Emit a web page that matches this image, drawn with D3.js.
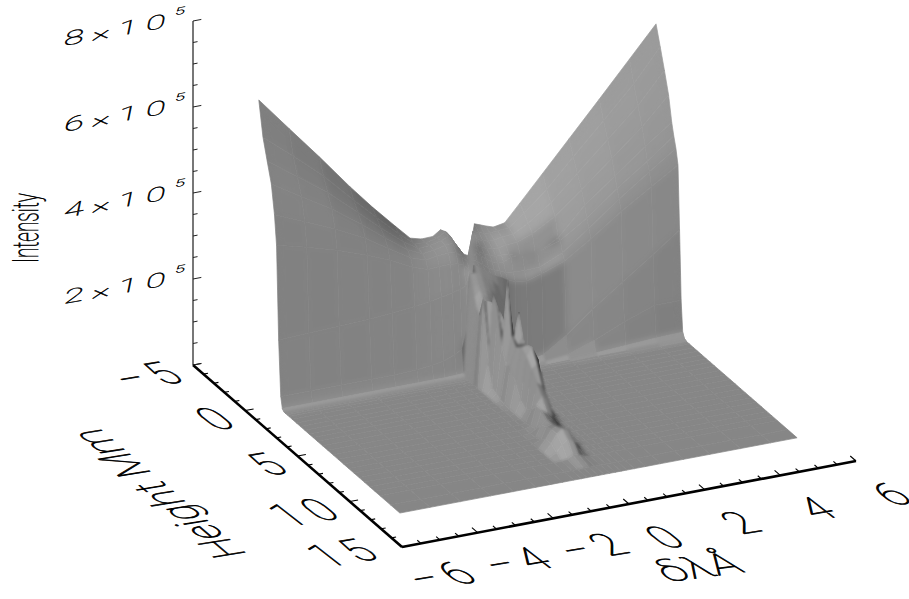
<!DOCTYPE html>
<html><head><meta charset="utf-8">
<style>html,body{margin:0;padding:0;background:#fff}svg{display:block}
text{font-family:Roboto,"Open Sans",sans-serif;font-weight:100;fill:#000;stroke:#000;stroke-width:0.42px;text-rendering:geometricPrecision}</style>
<script src="https://cdn.jsdelivr.net/npm/d3@7"></script></head><body>
<script>
// Wavelength offset (Å) of each surface column
const wavelengths=[-5.2,-4.4,-3.6,-2.8,-2.2,-1.6,-1.2,-0.9,-0.6,-0.4,-0.25,-0.1,0.05,0.2,0.35,0.5,0.65,0.8,1,1.3,1.7,2.3,3,3.8,4.6,5.3];
// Height (Mm) of each surface row, back to front
const heights=[-1.6,-1.2,-0.8,-0.4,-0.1,0.1,0.3,0.5,0.65,0.8,0.95,1.1,1.3,1.6,2,2.4,2.8,3.2,3.6,4,4.5,5,5.5,6,6.5,7,7.5,8,8.5,9,9.5,10,11,11.9];
// Intensity in units of 1e5, one row per height
const intensityRows=[
[6.75,5.95,5.16,4.34,3.76,3.22,2.87,2.80,2.81,2.93,2.86,2.62,2.46,2.27,2.20,2.92,2.87,2.82,2.76,2.81,3.20,3.79,4.48,5.27,6.07,6.77],
[5.97,5.40,4.80,4.10,3.60,3.12,2.83,2.80,2.85,2.96,2.84,2.62,2.42,2.22,2.85,2.80,2.76,2.74,2.76,2.78,3.05,3.50,4.15,4.85,5.58,6.32],
[5.50,5.00,4.50,3.90,3.45,3.02,2.80,2.82,2.88,2.95,2.78,2.58,2.38,2.18,2.75,2.70,2.66,2.66,2.70,2.72,2.90,3.28,3.85,4.50,5.15,5.86],
[5.05,4.62,4.20,3.70,3.30,2.92,2.76,2.80,2.86,2.88,2.72,2.52,2.34,2.75,2.66,2.60,2.56,2.56,2.60,2.62,2.75,3.05,3.55,4.15,4.75,5.37],
[4.40,4.10,3.80,3.45,3.12,2.80,2.68,2.72,2.74,2.72,2.60,2.44,2.75,2.65,2.56,2.50,2.46,2.46,2.44,2.36,2.32,2.62,3.25,3.80,4.35,4.80],
[3.73,3.55,3.35,3.10,2.88,2.62,2.50,2.52,2.52,2.50,2.44,2.30,2.70,2.58,2.48,2.40,2.34,2.34,2.42,2.44,2.42,2.60,3.00,3.55,4.05,4.52],
[1.57,1.60,1.62,1.65,1.70,1.75,1.80,1.85,1.90,1.95,2.00,2.60,2.52,2.42,2.32,2.24,2.20,2.14,2.12,2.10,2.12,2.35,2.80,3.35,3.85,4.28],
[0.30,0.30,0.30,0.30,0.30,0.32,0.36,0.40,0.50,0.60,1.15,2.50,2.42,2.32,2.22,2.14,2.08,2.00,1.94,1.90,2.00,2.20,2.60,3.10,3.55,3.93],
[0.05,0.05,0.05,0.05,0.05,0.05,0.05,0.05,0.06,0.07,2.35,2.35,2.30,2.20,2.10,1.95,1.60,0.60,0.08,0.06,0.15,0.50,1.00,1.50,2.00,2.45],
[0.01,0.01,0.01,0.01,0.01,0.01,0.01,0.01,0.01,0.01,2.25,2.25,2.20,2.10,2.00,1.70,1.00,0.10,0.02,0.01,0.02,0.08,0.30,0.60,0.85,0.85],
[0,0,0,0,0,0,0,0,0,0,2.10,2.15,2.10,2.00,1.85,1.40,0.40,0.03,0.01,0,0,0.01,0.04,0.08,0.12,0.14],
[0,0,0,0,0,0,0,0,0,0,1.90,2.05,2.00,1.90,1.65,1.00,0.12,0.01,0,0,0,0,0.01,0.01,0.02,0.03],
[0,0,0,0,0,0,0,0,0,0,1.70,1.95,1.90,1.78,1.40,0.60,0.04,0,0,0,0,0,0,0,0,0],
[0,0,0,0,0,0,0,0,0,0,1.60,1.90,1.85,1.75,1.20,0.40,0.02,0,0,0,0,0,0,0,0,0],
[0,0,0,0,0,0,0,0,0,0,2.10,0.70,1.70,1.65,0.90,0.20,0,0,0,0,0,0,0,0,0,0],
[0,0,0,0,0,0,0,0,0,0,0.60,2.20,1.00,1.50,1.40,0.60,0.10,0,0,0,0,0,0,0,0,0],
[0,0,0,0,0,0,0,0,0,0,0.15,2.00,1.10,2.00,1.10,0.70,0.10,0,0,0,0,0,0,0,0,0],
[0,0,0,0,0,0,0,0,0,0,0.10,1.20,2.70,1.30,1.90,0.90,0.10,0,0,0,0,0,0,0,0,0],
[0,0,0,0,0,0,0,0,0,0,0.05,0.80,1.50,1.25,1.40,0.60,0.05,0,0,0,0,0,0,0,0,0],
[0,0,0,0,0,0,0,0,0,0,0.03,0.90,1.30,1.35,1.20,0.50,0.03,0,0,0,0,0,0,0,0,0],
[0,0,0,0,0,0,0,0,0,0,0.02,0.60,1.40,1.45,1.00,0.30,0.02,0,0,0,0,0,0,0,0,0],
[0,0,0,0,0,0,0,0,0,0,0.01,0.30,1.30,1.50,1.20,0.30,0.01,0,0,0,0,0,0,0,0,0],
[0,0,0,0,0,0,0,0,0,0,0,0.20,1.10,1.20,0.70,0.15,0,0,0,0,0,0,0,0,0,0],
[0,0,0,0,0,0,0,0,0,0,0.02,0.30,0.90,0.80,0.30,0.05,0,0,0,0,0,0,0,0,0,0],
[0,0,0,0,0,0,0,0,0,0.01,0.05,0.50,0.70,0.60,0.15,0.02,0,0,0,0,0,0,0,0,0,0],
[0,0,0,0,0,0,0,0,0,0.02,0.10,0.50,0.40,0.30,0.08,0,0,0,0,0,0,0,0,0,0,0],
[0,0,0,0,0,0,0,0,0,0.02,0.30,0.40,0.35,0.20,0.03,0,0,0,0,0,0,0,0,0,0,0],
[0,0,0,0,0,0,0,0,0,0.08,0.35,0.40,0.30,0.10,0.02,0,0,0,0,0,0,0,0,0,0,0],
[0,0,0,0,0,0,0,0,0,0.20,0.40,0.45,0.35,0.10,0.02,0,0,0,0,0,0,0,0,0,0,0],
[0,0,0,0,0,0,0,0,0,0.20,0.40,0.50,0.45,0.15,0.02,0,0,0,0,0,0,0,0,0,0,0],
[0,0,0,0,0,0,0,0,0,0.10,0.25,0.35,0.30,0.10,0,0,0,0,0,0,0,0,0,0,0,0],
[0,0,0,0,0,0,0,0,0,0.01,0.03,0.10,0.08,0.02,0,0,0,0,0,0,0,0,0,0,0,0],
[0,0,0,0,0,0,0,0,0,0,0,0,0,0,0,0,0,0,0,0,0,0,0,0,0,0],
[0,0,0,0,0,0,0,0,0,0,0,0,0,0,0,0,0,0,0,0,0,0,0,0,0,0]];
const wavelengthTicks=[-6,-4,-2,0,2,4,6];
const heightTicks=[-5,0,5,10,15];
const intensityTicks=[2e5,4e5,6e5,8e5];
const intensityLabels=["2","4","6","8"];

const W=909,H=599;
const svg=d3.select("body").append("svg").attr("width",W).attr("height",H);

// Oblique projection built from one linear scale per axis component
const ox=402,oy=547;
const lamX=d3.scaleLinear([-6,6],[0,454]), lamY=d3.scaleLinear([-6,6],[0,-86]);
const hgtX=d3.scaleLinear([15,-5],[0,-209]), hgtY=d3.scaleLinear([15,-5],[0,-182]);
const intY=d3.scaleLinear([0,8e5],[0,-344]);
const project=(l,h,i)=>[ox+lamX(l)+hgtX(h), oy+lamY(l)+hgtY(h)+intY(i)];

// Shading: Lambert term on normalised axes, mapped to grey
const nx=d3.scaleLinear([-6,6],[0,1]), ny=d3.scaleLinear([15,-5],[0,1]), nz=d3.scaleLinear([0,8],[0,1]);
const light=[-0.25,-0.52,0.6];
const grey=d3.scaleLinear([0,0.6,1],[20,134,176]).clamp(true);
function lambert(a,b,c,d){
  const p=([l,h,i])=>[nx(l),ny(h),nz(i)];
  const A=p(a),B=p(b),C=p(c),D=p(d);
  const u=[C[0]-A[0],C[1]-A[1],C[2]-A[2]], v=[D[0]-B[0],D[1]-B[1],D[2]-B[2]];
  let n=[u[1]*v[2]-u[2]*v[1],u[2]*v[0]-u[0]*v[2],u[0]*v[1]-u[1]*v[0]];
  if(n[2]<0) n=n.map(x=>-x);
  const len=Math.hypot(...n)||1;
  n=n.map(x=>x/len);
  let dot=n[0]*light[0]+n[1]*light[1]+n[2]*light[2];
  if(n[0]<0) dot+=0.35*n[0]*n[0];
  return Math.max(0,dot);
}

// Soft filters: blur colours, keep a crisp silhouette
const defs=svg.append("defs");
function soft(id,sd){
  const f=defs.append("filter").attr("id",id).attr("filterUnits","userSpaceOnUse")
    .attr("x",0).attr("y",0).attr("width",W).attr("height",H).attr("color-interpolation-filters","sRGB");
  f.append("feGaussianBlur").attr("in","SourceGraphic").attr("stdDeviation",sd).attr("result","b");
  f.append("feComponentTransfer").attr("in","b").attr("result","o").append("feFuncA").attr("type","linear").attr("slope",30);
  f.append("feComposite").attr("in","o").attr("in2","SourceAlpha").attr("operator","in");
}
soft("softWall",3.8); soft("softFloor",0.9); soft("softBand",1.1);

const nR=heights.length-1,nC=wavelengths.length-1;
const vtx=(r,c)=>[wavelengths[c],heights[r],intensityRows[r][c]];
const wallRows=13, bandFrom=7, coreFrom=9, coreTo=21, foldTo=17, bright=0.66;
const inCore=c=>c>=coreFrom&&c<coreTo;
const raw=d3.range(nR).map(r=>d3.range(nC).map(c=>{
  const v=lambert(vtx(r,c),vtx(r,c+1),vtx(r+1,c+1),vtx(r+1,c));
  return (r<wallRows&&c>=coreFrom&&c<foldTo)?Math.max(v,0.45):v;
}));
const isBand=(r,c)=>r>=bandFrom&&r<wallRows&&raw[r][c]>bright;
// Even out the flat shade between neighbouring wall cells, leaving the crease and line core sharp
const dots=raw.map((row,r)=>row.map((v,c)=>{
  if(r>=wallRows||inCore(c)||isBand(r,c)) return v;
  let s=0,w=0;
  for(let dr=-2;dr<=2;dr++)for(let dc=-1;dc<=1;dc++){
    const rr=r+dr,cc=c+dc;
    if(rr<0||rr>=wallRows||cc<0||cc>=nC||inCore(cc)||isBand(rr,cc))continue;
    const k=(3-Math.abs(dr))*(dc?1:2); s+=raw[rr][cc]*k; w+=k;
  }
  return s/w;
}));
const cells=[];
for(let r=0;r<nR;r++)for(let c=nC-1;c>=0;c--){
  const g=Math.round(grey(dots[r][c]));
  cells.push({r,c,pts:[vtx(r,c),vtx(r,c+1),vtx(r+1,c+1),vtx(r+1,c)],fill:d3.rgb(g,g,g).formatHex()});
}
const line=d3.line();
function drawCells(list,filter){
  svg.append("g").attr("filter",`url(#${filter})`).selectAll("path").data(list).join("path")
  .attr("d",d=>line(d.pts.map(p=>project(p[0],p[1],p[2]*1e5)))+"Z")
  .attr("fill",d=>d.fill).attr("stroke",d=>d.fill).attr("stroke-width",0.7).attr("stroke-linejoin","round");
}
drawCells(cells.filter(d=>d.r<wallRows),"softWall");
drawCells(cells.filter(d=>d.r>=bandFrom&&d.r<wallRows&&(d.c>=coreFrom&&d.c<foldTo||isBand(d.r,d.c))),"softBand");
drawCells(cells.filter(d=>d.r>=wallRows),"softFloor");

// Axes
const axes=svg.append("g").attr("fill","none");
const seg=(a,b,col,w)=>axes.append("path").attr("d",line([a,b])).attr("stroke",col).attr("stroke-width",w);
seg(project(-6,-5,0),project(-6,-5,8e5),"#777",2);
seg(project(-6,-5,0),project(-6,15,0),"#000",2.6);
seg(project(-6,15,0),project(6,15,0),"#000",2.6);
d3.range(-6,6.01,0.5).forEach(l=>{
  const major=Number.isInteger(l/2);
  seg(project(l,15,0),project(l,15-(major?0.55:0.35),0),"#000",1.1);
});
d3.range(-5,15.01,1).forEach(h=>{
  const major=Number.isInteger(h/5);
  seg(project(-6,h,0),project(-6+(major?0.22:0.12),h,0),"#000",1.1);
});
d3.range(0,8e5+1,5e4).forEach(i=>{
  const major=i%2e5===0;
  seg(project(-6,-5,i),project(-6+(major?0.22:0.12),-5,i),"#222",1);
});

// Skewed labels: u = baseline per em, v = glyph up per em
const FS=20;
function label(str,pos,u,v,anchor,spacing){
  return svg.append("text").attr("font-size",FS).attr("text-anchor",anchor||"middle")
    .attr("letter-spacing",spacing?spacing*FS:null)
    .attr("transform",`matrix(${u[0]/FS},${u[1]/FS},${-v[0]/FS},${-v[1]/FS},${pos[0]},${pos[1]})`)
    .text(str);
}
const uTick=[42,-7], vTick=[-36,-28];
wavelengthTicks.forEach(l=>{
  const p=project(l,15,0);
  const txt=(l<0?"\u2212":"")+Math.abs(l);
  label(txt,[p[0]+(l<0?87:68),p[1]+(l<0?32.7:39.7)],uTick,vTick,"end",0.2);
});
heightTicks.forEach(h=>{
  const p=project(-6,h,0);
  const txt=(h<0?"\u2212":"")+Math.abs(h);
  label(txt,[p[0]+(h===15?-12:2),p[1]+(h===15?9.7:14.7)],uTick,vTick,"end",0.2);
});
const uZ=[36,-6.5], vZ=[4,-20];
intensityTicks.forEach((t,k)=>{
  const p=project(-6,-5,t);
  const el=label(intensityLabels[k]+"\u00d710",[p[0]-130,p[1]+25],uZ,vZ,"start",0.22);
  el.append("tspan").attr("font-size",FS*0.5).attr("dy",-FS*0.55).text("5");
});
label("Height Mm",[248,555],[-31,-26.4],[-44,7],"start");
label("\u03b4\u03bb\u00c5",[668,582],[46,-6],[-25,-28],"start");
label("Intensity",[38,263],[0,-19],[-36,0],"start");
</script></body></html>
